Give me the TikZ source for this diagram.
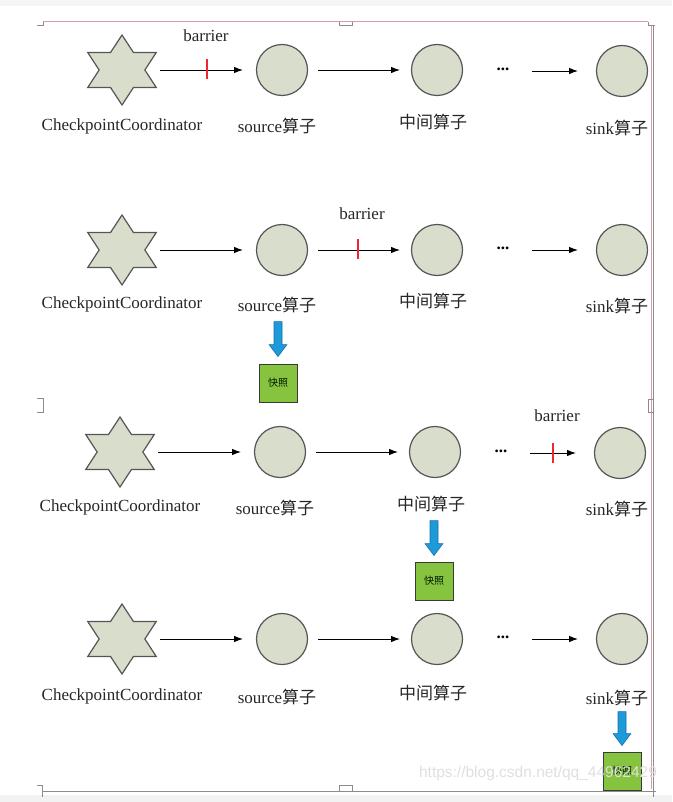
\documentclass[tikz,border=0pt]{standalone}
\usepackage{fontspec}
\setmainfont{Liberation Serif}
\newfontfamily\cjk{Noto Sans CJK SC}
\newfontfamily\wmfont{Liberation Sans}
\usetikzlibrary{shapes.geometric,calc,arrows.meta}
\definecolor{nodefill}{HTML}{D9DDCB}
\definecolor{nodeline}{HTML}{555555}
\definecolor{snapfill}{HTML}{86C440}
\definecolor{snapline}{HTML}{3A3A3A}
\definecolor{bluefill}{HTML}{1E9AD8}
\definecolor{blueline}{HTML}{1670A8}
\definecolor{framegray}{HTML}{8C8C8C}
\definecolor{framepink}{HTML}{DC9AA2}
\definecolor{tickred}{HTML}{F0282D}
\newcommand\zh[1]{{\cjk #1}}
\newcommand\blockarrow[2]{%
  \filldraw[snaparrowstyle] ($(#1)+(-4,0)$) -- ($(#1)+(4,0)$) -- ($(#2)+(4,-12)$)
    -- ($(#2)+(9,-12)$) -- (#2) -- ($(#2)+(-9,-12)$) -- ($(#2)+(-4,-12)$) -- cycle;}
\begin{document}
\begin{tikzpicture}[x=1pt,y=-1pt,
  starnode/.style={star, star points=6, star point ratio=1.73, minimum size=70pt,
    inner sep=0pt, fill=nodefill, draw=nodeline, line width=1.2pt},
  opnode/.style={circle, minimum size=51pt, inner sep=0pt, fill=nodefill,
    draw=nodeline, line width=1.2pt},
  lbl/.style={font=\fontsize{17}{20}\selectfont, inner sep=0pt, text=black!85},
  dotsnode/.style={font=\fontsize{17}{18}\selectfont\bfseries, inner sep=0pt},
  flow/.style={-{Latex[length=9pt,width=6.5pt]}, line width=0.9pt, black},
  f1/.style={flow, shorten <=38pt, shorten >=39pt},
  f2/.style={flow, shorten <=36pt, shorten >=37pt},
  f3/.style={flow, shorten <=29pt, shorten >=44pt},
  tickstyle/.style={tickred, line width=2.2pt},
  snapbox/.style={rectangle, minimum size=38pt, inner sep=0pt, fill=snapfill,
    draw=snapline, line width=0.9pt, font=\fontsize{10}{12}\selectfont\cjk,
    text=black!75!green!40!black},
  snaparrowstyle/.style={fill=bluefill, draw=blueline, line width=0.6pt},
  frame/.style={framegray, line width=1pt},
]
\useasboundingbox (0,0) rectangle (672,802);
% background strips
\fill[gray!8] (0,0) rectangle (672,6);
\fill[gray!10] (0,795) rectangle (672,802);
% page frame
\draw[framepink, line width=1pt] (43,22) -- (648,22);
\draw[frame] (37,26) -- (43,26) -- (43,22);
\draw[frame] (339,22) -- (339,26) -- (352,26) -- (352,22);
\draw[frame] (648,22) -- (648,26) -- (655,26);
\draw[frame] (653,26) -- (653,797);
\draw[framepink, line width=0.5pt] (651,26) -- (651,789);
\draw[frame] (648,399) -- (653,399) (648,399) -- (648,412) -- (653,412);
\draw[frame] (37,398) -- (43,398) -- (43,412) -- (37,412);
\draw[frame] (43,791) -- (653,791);
\draw[frame] (37,785) -- (42,785) -- (42,797);
\draw[frame] (339,791) -- (339,785) -- (352,785) -- (352,791);
\draw[frame] (647,791) -- (656,791);

% ---------- row 1 ----------
\begin{scope}[shift={(122,70)},xscale=1.13]
  \node[starnode, transform shape] (st1) at (0,0) {};
\end{scope}
\node[opnode] (src1) at (282,70) {};
\node[opnode] (mid1) at (437,70) {};
\node[opnode] (snk1) at (622,71) {};
\node[dotsnode] (dt1) at (503,69) {...};
\coordinate (dt1a) at (503,71);
\node[lbl] (st1l) at (122,126) {CheckpointCoordinator};
\node[lbl] (src1l) at (277,126) {source\zh{算子}};
\node[lbl] (mid1l) at (433,122) {\zh{中间算子}};
\node[lbl] (snk1l) at (617,128) {sink\zh{算子}};
\draw[f1] (st1.center) -- (src1.center);
\draw[f2] (src1.center) -- (mid1.center);
\draw[f3] (dt1a) -- (snk1.center);
\node[lbl] (bar1) at (206,36) {barrier};
\draw[tickstyle] (207,59) -- (207,79);

% ---------- row 2 ----------
\begin{scope}[shift={(122,250)},xscale=1.13]
  \node[starnode, transform shape] (st2) at (0,0) {};
\end{scope}
\node[opnode] (src2) at (282,250) {};
\node[opnode] (mid2) at (437,250) {};
\node[opnode] (snk2) at (622,250) {};
\node[dotsnode] (dt2) at (503,248) {...};
\coordinate (dt2a) at (503,250);
\node[lbl] (st2l) at (122,304) {CheckpointCoordinator};
\node[lbl] (src2l) at (277,305) {source\zh{算子}};
\node[lbl] (mid2l) at (433,301) {\zh{中间算子}};
\node[lbl] (snk2l) at (617,306) {sink\zh{算子}};
\draw[f1] (st2.center) -- (src2.center);
\draw[f2] (src2.center) -- (mid2.center);
\draw[f3] (dt2a) -- (snk2.center);
\node[lbl] (bar2) at (362,214) {barrier};
\draw[tickstyle] (358,239) -- (358,259);
\node[snapbox] (snap2) at (278,383) {快照};
\coordinate (a2t) at ($(snap2.north)+(0,-42)$);
\coordinate (a2b) at ($(snap2.north)+(0,-7)$);
\blockarrow{a2t}{a2b}

% ---------- row 3 ----------
\begin{scope}[shift={(120,452)},xscale=1.13]
  \node[starnode, transform shape] (st3) at (0,0) {};
\end{scope}
\node[opnode] (src3) at (280,452) {};
\node[opnode] (mid3) at (435,452) {};
\node[opnode] (snk3) at (620,453) {};
\node[dotsnode] (dt3) at (501,451) {...};
\coordinate (dt3a) at (501,453);
\node[lbl] (st3l) at (120,507) {CheckpointCoordinator};
\node[lbl] (src3l) at (275,508) {source\zh{算子}};
\node[lbl] (mid3l) at (431,504) {\zh{中间算子}};
\node[lbl] (snk3l) at (617,509) {sink\zh{算子}};
\draw[f1] (st3.center) -- (src3.center);
\draw[f2] (src3.center) -- (mid3.center);
\draw[f3] (dt3a) -- (snk3.center);
\node[lbl] (bar3) at (557,416) {barrier};
\draw[tickstyle] (553,443) -- (553,463);
\node[snapbox] (snap3) at (434,581) {快照};
\coordinate (a3t) at ($(snap3.north)+(0,-41)$);
\coordinate (a3b) at ($(snap3.north)+(0,-6)$);
\blockarrow{a3t}{a3b}

% ---------- row 4 ----------
\begin{scope}[shift={(122,639)},xscale=1.13]
  \node[starnode, transform shape] (st4) at (0,0) {};
\end{scope}
\node[opnode] (src4) at (282,639) {};
\node[opnode] (mid4) at (437,639) {};
\node[opnode] (snk4) at (622,639) {};
\node[dotsnode] (dt4) at (503,637) {...};
\coordinate (dt4a) at (503,639);
\node[lbl] (st4l) at (122,696) {CheckpointCoordinator};
\node[lbl] (src4l) at (277,697) {source\zh{算子}};
\node[lbl] (mid4l) at (433,693) {\zh{中间算子}};
\node[lbl] (snk4l) at (617,698) {sink\zh{算子}};
\draw[f1] (st4.center) -- (src4.center);
\draw[f2] (src4.center) -- (mid4.center);
\draw[f3] (dt4a) -- (snk4.center);
\node[snapbox] (snap4) at (622,771) {快照};
\coordinate (a4t) at ($(snap4.north)+(0,-40)$);
\coordinate (a4b) at ($(snap4.north)+(0,-6)$);
\blockarrow{a4t}{a4b}

% watermark
\node[font=\wmfont\fontsize{15.5}{18}\selectfont, text=gray!25, inner sep=0pt]
  (wm) at (538,773) {https://blog.csdn.net/qq\_44962429};
\end{tikzpicture}
\end{document}
